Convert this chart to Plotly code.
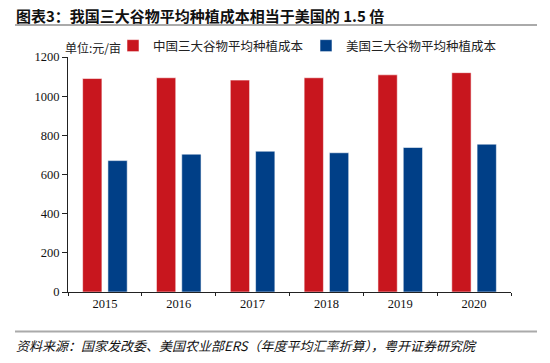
import plotly.graph_objects as go

years = ["2015", "2016", "2017", "2018", "2019", "2020"]
china_cost = [1090, 1094, 1082, 1094, 1109, 1120]
us_cost = [671, 704, 719, 711, 738, 755]
y_ticks = [0, 200, 400, 600, 800, 1000, 1200]

RED = "#C8161E"
BLUE = "#003F87"
CJK = "Noto Sans CJK SC"
SERIF = "Liberation Serif"

fig = go.Figure()
fig.add_trace(go.Bar(x=years, y=china_cost, name="中国三大谷物平均种植成本",
                     marker=dict(color=RED, line=dict(color="rgba(255,255,255,0.55)", width=1))))
fig.add_trace(go.Bar(x=years, y=us_cost, name="美国三大谷物平均种植成本",
                     marker=dict(color=BLUE, line=dict(color="rgba(255,255,255,0.55)", width=1))))

fig.update_layout(
    width=550, height=363,
    margin=dict(l=68, r=39, t=57, b=70.5, pad=0, autoexpand=False),
    paper_bgcolor="white", plot_bgcolor="white",
    barmode="group", bargap=0.315, bargroupgap=0.237,
    showlegend=True,
    legend=dict(orientation="h", xref="container", yref="container",
                x=113/550, y=1-31/363, xanchor="left", yanchor="top",
                font=dict(family=CJK, size=12.5, color="#222"),
                entrywidth=148, entrywidthmode="pixels",
                itemwidth=30, bgcolor="rgba(0,0,0,0)", tracegroupgap=0),
    xaxis=dict(type="category", showline=True, linecolor="#222", linewidth=1,
               ticks="outside", ticklen=3, tickcolor="#222", tickson="boundaries",
               tickfont=dict(family=SERIF, size=12.5, color="#111"), showgrid=False),
    yaxis=dict(range=[0, 1200], tickvals=y_ticks, showline=True, linecolor="#222",
               linewidth=1, ticks="outside", ticklen=5, tickcolor="#222",
               tickfont=dict(family=SERIF, size=12.5, color="#111"), showgrid=False,
               zeroline=False),
    font=dict(family=CJK),
)

fig.add_annotation(text="<b>图表3：我国三大谷物平均种植成本相当于美国的 1.5 倍</b>",
                   xref="paper", yref="paper", x=(14-68)/443, y=(292.5-15)/235.5,
                   xanchor="left", yanchor="middle", showarrow=False,
                   font=dict(family=CJK, size=15, color="#111"))
fig.add_annotation(text="单位:元/亩", xref="paper", yref="paper",
                   x=(63-68)/443, y=(292.5-47)/235.5, xanchor="left", yanchor="middle",
                   showarrow=False, font=dict(family=CJK, size=12, color="#222"))
fig.add_annotation(text="资料来源：国家发改委、美国农业部ERS（年度平均汇率折算），粤开证券研究院",
                   xref="paper", yref="paper", x=(14-68)/443, y=(292.5-346)/235.5,
                   xanchor="left", yanchor="middle", showarrow=False,
                   font=dict(family=CJK, size=13, color="#111", style="italic"))

for yy in (25, 332):
    fig.add_shape(type="line", xref="paper", yref="paper",
                  x0=(15-68)/443, x1=(537-68)/443,
                  y0=(292.5-yy)/235.5, y1=(292.5-yy)/235.5,
                  line=dict(color="#AAAAAA", width=2), layer="above")

fig.write_html("out.html", config={"displayModeBar": False},
               post_script="document.body.style.margin='0';document.body.style.padding='0';")
